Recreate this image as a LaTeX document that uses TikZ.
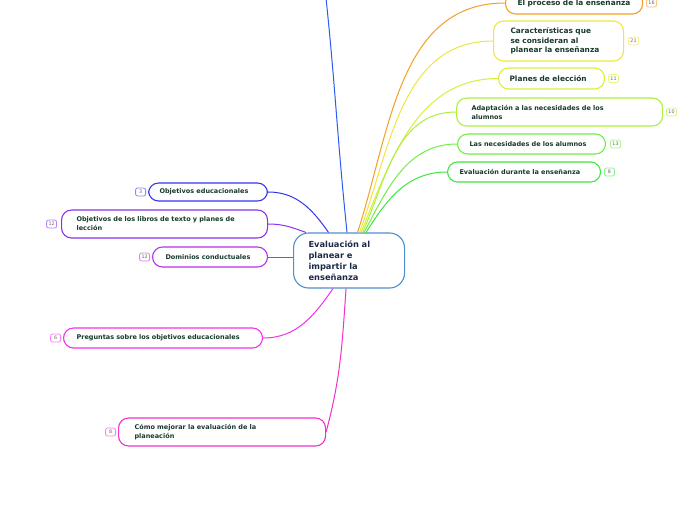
\documentclass[tikz,border=0pt]{standalone}
\usepackage{fontspec}
\setmainfont{DejaVu Sans}
\definecolor{txt}{HTML}{173A2A}
\definecolor{ctxt}{HTML}{1C2A4A}
\definecolor{cbord}{HTML}{4F8FCB}
\definecolor{cA}{HTML}{F4A024}
\definecolor{cB}{HTML}{F0E63C}
\definecolor{cC}{HTML}{D6F03E}
\definecolor{cD}{HTML}{AEF03E}
\definecolor{cE}{HTML}{72EE46}
\definecolor{cF}{HTML}{40E640}
\definecolor{cG}{HTML}{3535EE}
\definecolor{cH}{HTML}{8A32EE}
\definecolor{cI}{HTML}{B432EA}
\definecolor{cJ}{HTML}{F032EC}
\definecolor{cK}{HTML}{F032CC}
\definecolor{cT}{HTML}{2A5CF0}
\begin{document}
\begin{tikzpicture}[x=1pt,y=-1pt,
  leaf/.style={draw=#1, line width=1.1pt, rounded corners=10pt, fill=white,
    align=left, inner ysep=1pt, text=txt, anchor=west,
    font=\bfseries\fontsize{6.5}{9}\selectfont},
  bigleaf/.style={leaf=#1, font=\bfseries\fontsize{7.4}{9.5}\selectfont},
  badge/.style={draw=#1!60, line width=0.8pt, rounded corners=2pt, fill=white,
    text=black!60, font=\fontsize{4.8}{5}\selectfont, inner sep=0.8pt,
    minimum width=10pt, minimum height=8pt},
  conn/.style={draw=#1, line width=1pt}]
\clip (0,0) rectangle (696,520);
\fill[white] (0,0) rectangle (696,520);

% central node
\node[draw=cbord, line width=1.1pt, rounded corners=15pt, fill=white, align=left,
  text=ctxt, font=\bfseries\fontsize{8.3}{11}\selectfont, inner xsep=15pt,
  text width=81pt, minimum height=55pt, anchor=west] (c) at (293,260.5)
  {Evaluación al\\planear e\\impartir la\\enseñanza};

% right nodes
\node[bigleaf=cA, inner xsep=12pt, text width=113pt, minimum height=22pt] (n1) at (505,3) {El proceso de la enseñanza};
\node[bigleaf=cB, inner xsep=17pt, text width=96pt, minimum height=40pt] (n2) at (493,41) {Características que\\se consideran al\\planear la enseñanza};
\node[bigleaf=cC, inner xsep=11pt, text width=84pt, minimum height=21pt] (n3) at (498,78.5) {Planes de elección};
\node[leaf=cD, inner xsep=15pt, text width=176pt, minimum height=28pt] (n4) at (456,112) {Adaptación a las necesidades de los\\alumnos};
\node[leaf=cE, inner xsep=12pt, text width=124pt, minimum height=20pt] (n5) at (457,144) {Las necesidades de los alumnos};
\node[leaf=cF, inner xsep=12pt, text width=129pt, minimum height=20pt] (n6) at (447,172) {Evaluación durante la enseñanza};

% left nodes
\node[leaf=cG, inner xsep=11pt, text width=97pt, minimum height=18pt] (n7) at (148,192) {Objetivos educacionales};
\node[leaf=cH, inner xsep=15pt, text width=176pt, minimum height=28pt] (n8) at (61,224) {Objetivos de los libros de texto y planes de\\lección};
\node[leaf=cI, inner xsep=13pt, text width=89pt, minimum height=20pt] (n9) at (152,257) {Dominios conductuales};
\node[leaf=cJ, inner xsep=13pt, text width=173pt, minimum height=20pt] (n10) at (63,338) {Preguntas sobre los objetivos educacionales};
\node[leaf=cK, inner xsep=16pt, text width=175pt, minimum height=28pt] (n11) at (118,432) {Cómo mejorar la evaluación de la\\planeación};

% badges
\node[badge=cA, anchor=west] (b1) at ([xshift=3pt]n1.east) {16};
\node[badge=cB, anchor=west] (b2) at ([xshift=4pt]n2.east) {21};
\node[badge=cC, anchor=west] (b3) at ([xshift=3pt]n3.east) {11};
\node[badge=cD, anchor=west] (b4) at ([xshift=3pt]n4.east) {10};
\node[badge=cE, anchor=west] (b5) at ([xshift=4pt]n5.east) {13};
\node[badge=cF, anchor=west] (b6) at ([xshift=3pt]n6.east) {8};
\node[badge=cG, anchor=east] (b7) at ([xshift=-2pt]n7.west) {3};
\node[badge=cH, anchor=east] (b8) at ([xshift=-4pt]n8.west) {12};
\node[badge=cI, anchor=east] (b9) at ([xshift=-2pt]n9.west) {12};
\node[badge=cJ, anchor=east] (b10) at ([xshift=-2pt]n10.west) {6};
\node[badge=cK, anchor=east] (b11) at ([xshift=-2pt]n11.west) {8};

% top branch free end
\coordinate (topend) at (326,-2);

% connectors
\draw[conn=cT] ([xshift=-2pt]c.north) to[out=96,in=-84] (topend);
\draw[conn=cA] ([xshift=8.5pt]c.north) to[out=72,in=180] (n1.west);
\draw[conn=cB] ([xshift=10.5pt]c.north) to[out=70,in=180] (n2.west);
\draw[conn=cC] ([xshift=12pt]c.north) to[out=68,in=180] (n3.west);
\draw[conn=cD] ([xshift=13.5pt]c.north) to[out=66,in=180] (n4.west);
\draw[conn=cE] ([xshift=15pt]c.north) to[out=62,in=180] (n5.west);
\draw[conn=cF] ([xshift=17pt]c.north) to[out=58,in=180] (n6.west);
\draw[conn=cG] (n7.east) to[out=0,in=125] ([xshift=-20.5pt]c.north);
\draw[conn=cH] (n8.east) to[out=0,in=160] ([xshift=13pt]c.north west);
\draw[conn=cI] (n9.east) -- (n9.east -| c.west);
\draw[conn=cJ] (n10.east) to[out=0,in=-125] ([xshift=-16pt]c.south);
\draw[conn=cK] (n11.east) to[out=75,in=-94] ([xshift=-3pt]c.south);
\end{tikzpicture}
\end{document}
